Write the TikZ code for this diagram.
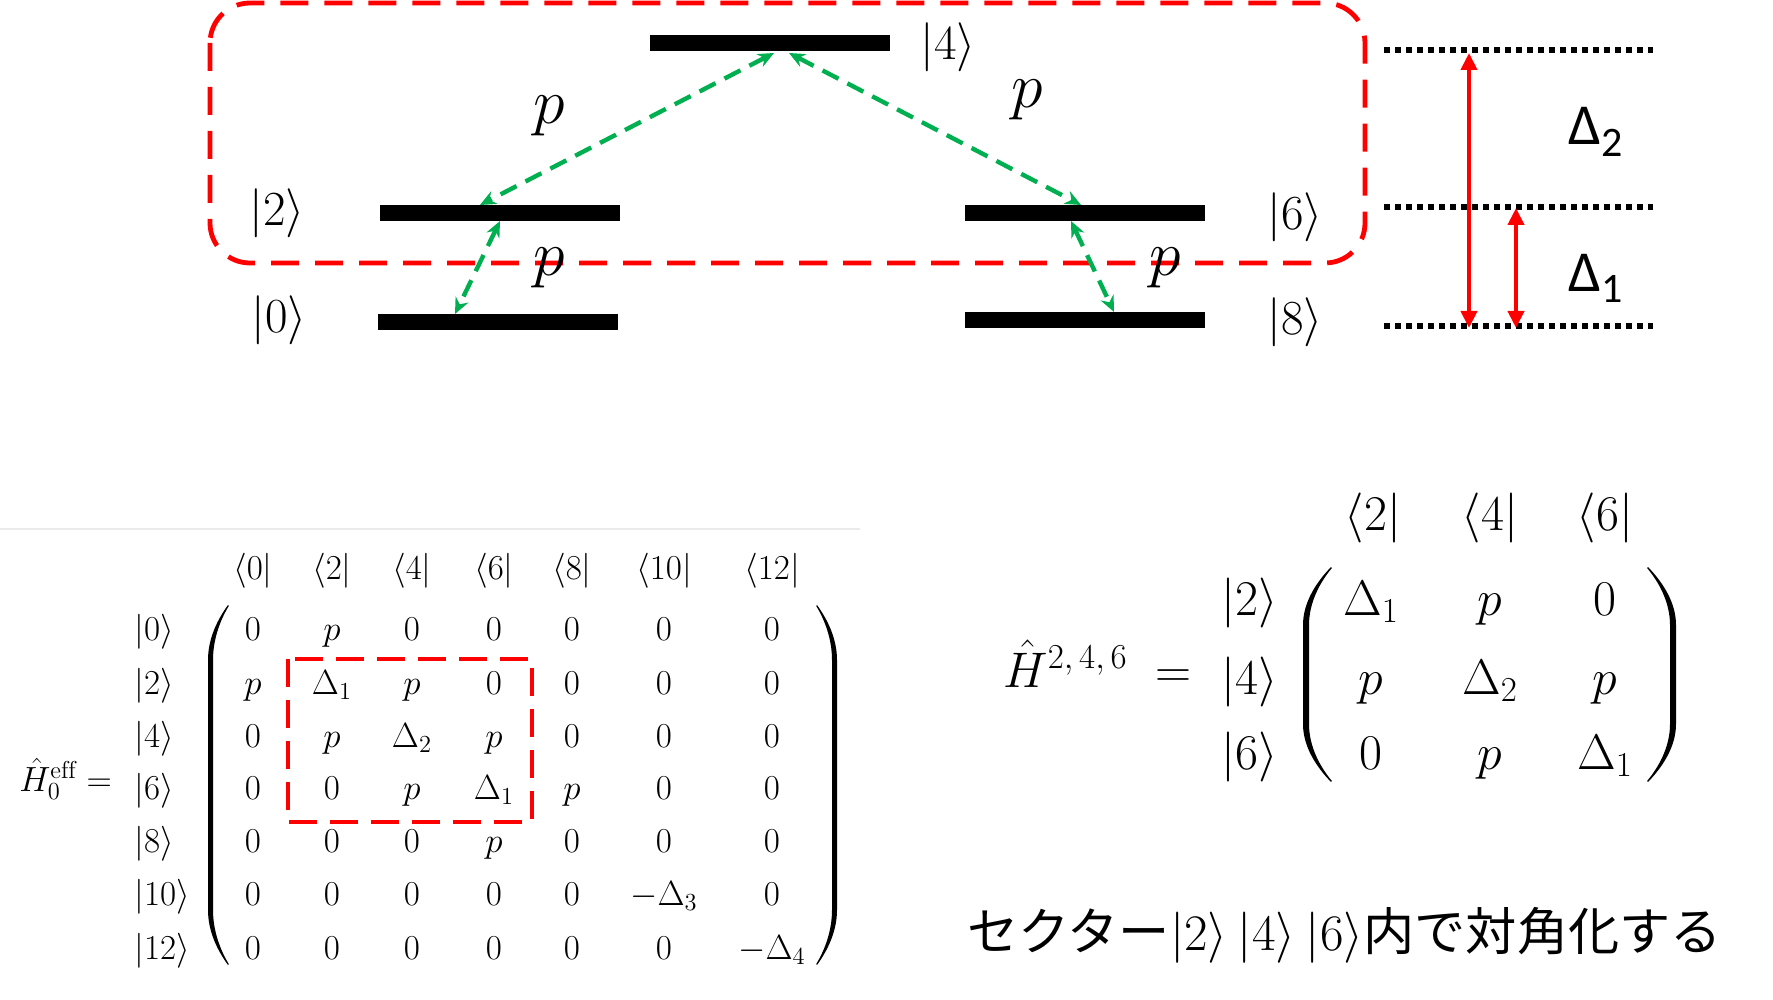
\RequirePackage{fix-cm}
\documentclass[tikz,border=0pt]{standalone}
\usepackage{fontspec}
\newfontfamily\jpfont{Noto Sans CJK JP}
\newfontfamily\dfont{Carlito}
\usetikzlibrary{arrows.meta}
\definecolor{ggreen}{HTML}{00B050}
\definecolor{rred}{HTML}{FF0000}
% tapered big parenthesis: x tip, y top, y bottom, bulge, thickness, hook length
\newcommand\mybigparen[6]{%
\fill ({#1},{#2}) .. controls ({#1-0.5*(#4)},{#2+0.25*#6}) and ({#1-(#4)},{#2+0.6*#6}) .. ({#1-(#4)},{#2+#6})
 -- ({#1-(#4)},{#3-#6}) .. controls ({#1-(#4)},{#3-0.6*#6}) and ({#1-0.5*(#4)},{#3-0.25*#6}) .. ({#1},{#3})
 -- ({#1+0.15*(#5)},{#3-1}) .. controls ({#1-0.5*(#4)+0.6*(#5)},{#3-0.25*#6}) and ({#1-(#4)+(#5)},{#3-0.6*#6}) .. ({#1-(#4)+(#5)},{#3-#6})
 -- ({#1-(#4)+(#5)},{#2+#6}) .. controls ({#1-(#4)+(#5)},{#2+0.6*#6}) and ({#1-0.5*(#4)+0.6*(#5)},{#2+0.25*#6}) .. ({#1+0.15*(#5)},{#2+1}) -- cycle;}
\tikzset{
  levelbar/.style={fill=black, inner sep=0pt, minimum width=120pt, minimum height=8pt},
  ket/.style={inner sep=0pt, font=\fontsize{24.5}{28}\selectfont},
  plabel/.style={inner sep=0pt, anchor=base, font=\fontsize{32}{36}\selectfont},
  garrow/.style={draw=ggreen, line width=2.2pt, dash pattern=on 9pt off 5pt,
     {Stealth[length=8pt,width=7pt]}-{Stealth[length=8pt,width=7pt]}},
  redbox/.style={draw=rred, line width=2.4pt, dash pattern=on 14pt off 8pt},
  dotline/.style={draw=black, line width=3pt, dash pattern=on 2.75pt off 2.75pt},
  rarrow/.style={draw=rred, line width=2pt,
     {Triangle[length=8.5pt,width=8pt]}-{Triangle[length=8.5pt,width=8pt]}},
  dlabel/.style={inner sep=0pt, anchor=base west, font=\dfont\fontsize{29}{34}\selectfont},
  mtx/.style={inner sep=0pt, anchor=base, font=\fontsize{17.5}{21}\selectfont},
  mtxw/.style={inner sep=0pt, anchor=base west, font=\fontsize{17.5}{21}\selectfont},
  rmtx/.style={inner sep=0pt, anchor=base, font=\fontsize{25}{30}\selectfont},
  rmtxw/.style={inner sep=0pt, anchor=base west, font=\fontsize{25}{30}\selectfont},
  jptext/.style={inner sep=0pt, anchor=base west, font=\jpfont\fontsize{25.6}{30}\selectfont}
}
\begin{document}
\begin{tikzpicture}[x=0.5pt, y=-0.5pt]
\fill[white] (0,0) rectangle (1773,1000);
\useasboundingbox (0,0) rectangle (1773,1000);

% ---------- energy level diagram ----------
\draw[redbox, rounded corners=20pt] (210,3) rectangle (1365,263);

\node[levelbar] (b4) at (770,43) {};
\node[levelbar] (b2) at (500,213) {};
\node[levelbar] (b0) at (498,322) {};
\node[levelbar] (b6) at (1085,213) {};
\node[levelbar] (b8) at (1085,320) {};

\node[ket] (k4) at (948,47) {$|4\rangle$};
\node[ket] (k2) at (277,213) {$|2\rangle$};
\node[ket] (k0) at (279,320) {$|0\rangle$};
\node[ket] (k6) at (1295,217) {$|6\rangle$};
\node[ket] (k8) at (1295,322) {$|8\rangle$};

\coordinate (g4l) at (774,53);
\coordinate (g2t) at (480,205);
\coordinate (g4r) at (789,53);
\coordinate (g6t) at (1081,205);
\coordinate (g2b) at (500,221);
\coordinate (g0t) at (455,314);
\coordinate (g6b) at (1071,221);
\coordinate (g8t) at (1114,312);
\draw[garrow] (g4l) -- (g2t);
\draw[garrow] (g4r) -- (g6t);
\draw[garrow] (g2b) -- (g0t);
\draw[garrow] (g6b) -- (g8t);

\node[plabel] (p1) at (549,124) {$p$};
\node[plabel] (p2) at (1027,108) {$p$};
\node[plabel] (p3) at (549,276) {$p$};
\node[plabel] (p4) at (1165,276) {$p$};

% ---------- detuning scale ----------
\coordinate (dl1) at (1384,50);  \coordinate (dr1) at (1653,50);
\coordinate (dl2) at (1384,207); \coordinate (dr2) at (1653,207);
\coordinate (dl3) at (1384,326); \coordinate (dr3) at (1653,326);
\draw[dotline] (dl1) -- (dr1);
\draw[dotline] (dl2) -- (dr2);
\draw[dotline] (dl3) -- (dr3);
\coordinate (ra1t) at (1469,53);  \coordinate (ra1b) at (1469,328);
\coordinate (ra2t) at (1516,208); \coordinate (ra2b) at (1516,328);
\draw[rarrow] (ra1t) -- (ra1b);
\draw[rarrow] (ra2t) -- (ra2b);
\node[dlabel] (d2) at (1568,145) {Δ\raisebox{-6pt}{\fontsize{21}{24}\selectfont 2}};
\node[dlabel] (d1) at (1568,292) {Δ\raisebox{-5.5pt}{\fontsize{21}{24}\selectfont 1}};

% ---------- faint separator ----------
\draw[black!8, line width=1pt] (0,529) -- (860,529);

% ---------- left matrix ----------
\node[mtxw] (heff) at (19,791) {$\hat{H}_0^{\mathrm{eff}} =$};
\foreach \c/\xx/\k in {0/253/0, 1/332/2, 2/412/4, 3/494/6, 4/572/8, 5/664/10, 6/772/12}
  \node[mtx] (lc\c) at (\xx,579) {$\langle\k|$};
\foreach \r/\yy/\k in {0/640/0, 1/694/2, 2/747/4, 3/799/6, 4/852/8, 5/905/10, 6/959/12}
  \node[mtxw] (lr\r) at (134,\yy) {$|\k\rangle$};
\foreach \r/\yy/\a/\b/\c/\d/\e/\f/\g in {
   0/640/0/p/0/0/0/0/0,
   1/694/p/\Delta_1/p/0/0/0/0,
   2/747/0/p/\Delta_2/p/0/0/0,
   3/799/0/0/p/\Delta_1/p/0/0,
   4/852/0/0/0/p/0/0/0,
   5/905/0/0/0/0/0/-\Delta_3/0,
   6/959/0/0/0/0/0/0/-\Delta_4}{
  \node[mtx] (le\r-0) at (253,\yy) {$\a$};
  \node[mtx] (le\r-1) at (332,\yy) {$\b$};
  \node[mtx] (le\r-2) at (412,\yy) {$\c$};
  \node[mtx] (le\r-3) at (494,\yy) {$\d$};
  \node[mtx] (le\r-4) at (572,\yy) {$\e$};
  \node[mtx] (le\r-5) at (664,\yy) {$\f$};
  \node[mtx] (le\r-6) at (772,\yy) {$\g$};
}
\mybigparen{228}{605}{965}{20}{5}{55}
\mybigparen{817}{605}{965}{-20}{-5}{55}
\draw[draw=rred, line width=2.4pt, dash pattern=on 14pt off 6.5pt] (288,659) rectangle (532,822);

% ---------- right matrix ----------
\node[rmtxw] (h246) at (1003,687) {$\hat{H}^{2,\,4,\,6} \;=$};
\foreach \c/\xx/\k in {0/1373/2, 1/1490/4, 2/1605/6}
  \node[rmtx] (rc\c) at (\xx,530) {$\langle\k|$};
\foreach \r/\yy/\k in {0/615/2, 1/694/4, 2/769/6}
  \node[rmtxw] (rr\r) at (1221,\yy) {$|\k\rangle$};
\foreach \r/\yy/\a/\b/\c in {0/615/\Delta_1/p/0, 1/694/p/\Delta_2/p, 2/769/0/p/\Delta_1}{
  \node[rmtx] (re\r-0) at (1371,\yy) {$\a$};
  \node[rmtx] (re\r-1) at (1490,\yy) {$\b$};
  \node[rmtx] (re\r-2) at (1605,\yy) {$\c$};
}
\mybigparen{1331}{567}{782}{28}{6}{58}
\mybigparen{1648}{567}{782}{-28}{-6}{58}

% ---------- caption ----------
\node[jptext] (cap) at (967,950) {セクター$|2\rangle$\hspace{0.2em}$|4\rangle$\hspace{0.2em}$|6\rangle$内で対角化する};
\end{tikzpicture}
\end{document}
